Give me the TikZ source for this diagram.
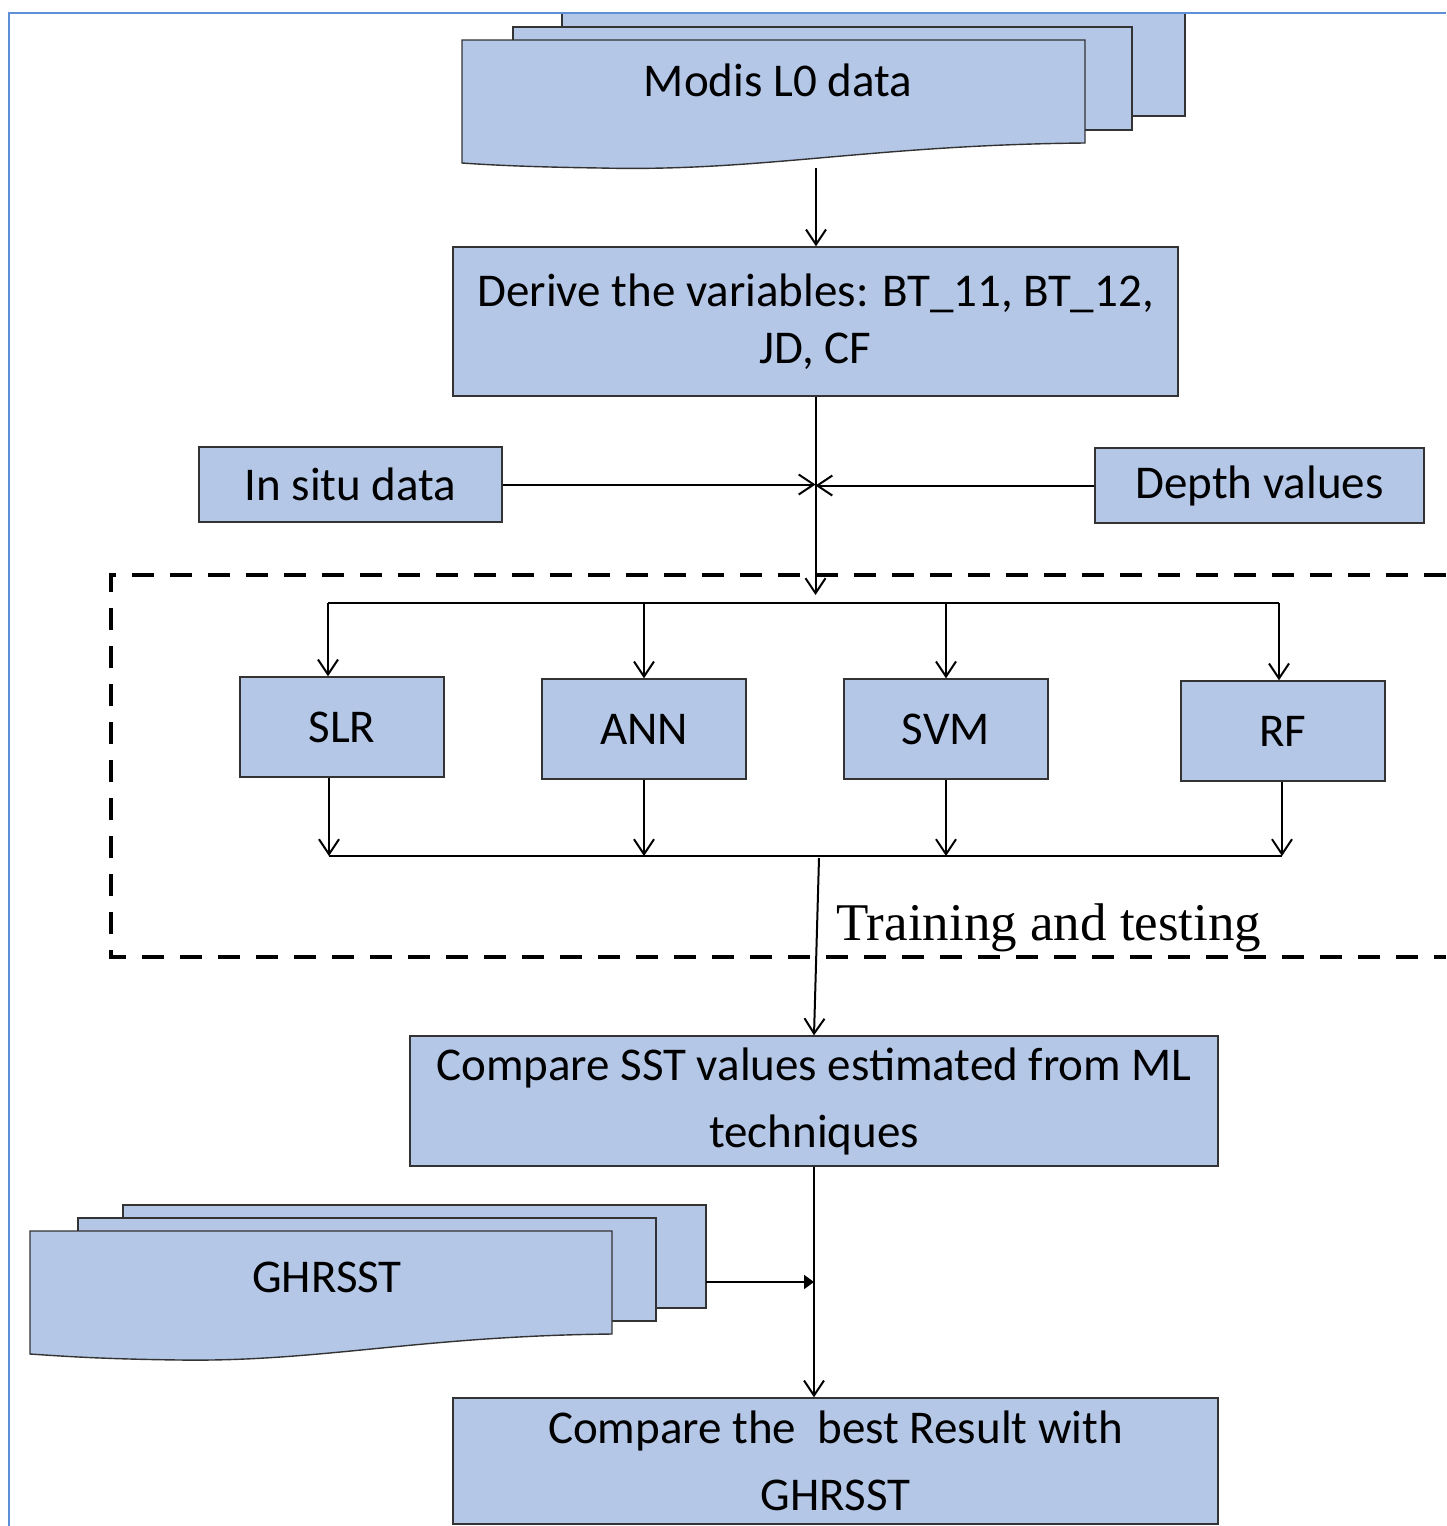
\documentclass[tikz,border=0pt]{standalone}
\usepackage{fontspec}
\setmainfont{Carlito}
\newfontfamily\serifplain{Liberation Serif}
\usetikzlibrary{arrows.meta}
\definecolor{boxblue}{RGB}{180,199,231}
\definecolor{frameblue}{RGB}{95,143,214}
\tikzstyle{process} = [rectangle, text centered, align=center, draw=black!80, fill=boxblue, line width=0.7pt, inner sep=0pt, font=\fontsize{23.5}{28.5}\selectfont]
\tikzstyle{method} = [process, minimum width=102pt, minimum height=50pt]
\tikzstyle{sheet} = [draw=black!80, fill=boxblue, line width=0.7pt]
\tikzstyle{arrow} = [line width=1pt, -{Straight Barb[length=7.5pt,width=10pt]}]
\tikzstyle{link} = [line width=0.8pt]

\begin{document}
\begin{tikzpicture}[x=0.5pt, y=-0.5pt]
\useasboundingbox (0,0) rectangle (1446,1526);
% input documents
\draw[sheet] (562,13) rectangle (1185,116);
\draw[sheet] (513,27) rectangle (1132,130);
\draw[sheet] (462,40) -- (1085,40) -- (1085,143) .. controls (870,145) and (760,172) .. (600,168) .. controls (530,167) and (490,165) .. (462,163) -- cycle;
\node (modis) [font=\fontsize{23.5}{28.5}\selectfont] at (778,80) {Modis L0 data};
\coordinate (modisout) at (816,168);

\node (derive) [process, minimum width=362.5pt, minimum height=74.5pt] at (815.5,321.5) {Derive the variables: BT\_11, BT\_12,\\JD, CF};
\node (insitu) [process, minimum width=151.5pt, minimum height=37.5pt] at (350.5,484.5) {In situ data};
\node (depth) [process, minimum width=164.5pt, minimum height=37.5pt] at (1259.5,485.5) {Depth values};
\coordinate (mix) at (815.5,484);
\coordinate (intrain) at (815.5,595);

\draw [arrow] (modisout) -- (modisout |- derive.north);
\draw [arrow] (derive.south) -- (intrain);
\draw [arrow] (insitu.east) -- (insitu.east -| mix);
\draw [arrow] (depth.west) -- (depth.west -| mix);

% training block
\draw[line width=2pt, dash pattern=on 11pt off 8pt] (1446,575) -- (111,575) -- (111,957) -- (1446,957);
\node (slr) [method] at (342,727) {SLR};
\node (ann) [method] at (644,729) {ANN};
\node (svm) [method] at (946,729) {SVM};
\node (rf) [method] at (1283,731) {RF};
\node (train) [anchor=base west, inner sep=0pt, font=\serifplain\fontsize{26.5}{30}\selectfont] at (836,940) {Training and testing};

\coordinate (s1) at (328,603);
\coordinate (s4) at (1279,603);
\draw [link] (s1) -- (s4);
\draw [arrow] (s1) -- (s1 |- slr.north);
\draw [arrow] (ann.north |- s1) -- (ann.north);
\draw [arrow] (svm.north |- s1) -- (svm.north);
\draw [arrow] (s4) -- (s4 |- rf.north);

\coordinate (j1) at (329,856);
\coordinate (j4) at (1282,856);
\coordinate (jmid) at (819,858);
\draw [link] (j1) -- (j4);
\draw [arrow] (slr.south -| j1) -- (j1);
\draw [arrow] (ann.south) -- (ann.south |- j1);
\draw [arrow] (svm.south) -- (svm.south |- j1);
\draw [arrow] (rf.south -| j4) -- (j4);

\node (compare) [process, minimum width=404pt, minimum height=65pt, font=\fontsize{23.5}{33.5}\selectfont] at (814,1101) {Compare SST values estimated from ML\\techniques};
\draw [arrow] (jmid) -- (compare.north);

% reference documents
\draw[sheet] (123,1205) rectangle (706,1308);
\draw[sheet] (78,1218) rectangle (656,1321);
\draw[sheet] (30,1231) -- (612,1231) -- (612,1334) .. controls (420,1336) and (320,1362) .. (180,1360) .. controls (100,1359) and (60,1356) .. (30,1354) -- cycle;
\node (ghrsst) [font=\fontsize{23.5}{28.5}\selectfont] at (327,1277) {GHRSST};
\coordinate (ghrout) at (706,1282);

\node (final) [process, minimum width=382.5pt, minimum height=63pt, font=\fontsize{23.5}{33.5}\selectfont] at (835.5,1461) {Compare the~ best Result with\\GHRSST};
\draw [arrow] (compare.south) -- (compare.south |- final.north);
\draw [line width=1pt, -{Triangle[length=5pt,width=7pt]}] (ghrout) -- (ghrout -| compare.south);

% page frame
\draw[frameblue, line width=1.2pt] (9,1526) -- (9,13) -- (1446,13);
\end{tikzpicture}
\end{document}
